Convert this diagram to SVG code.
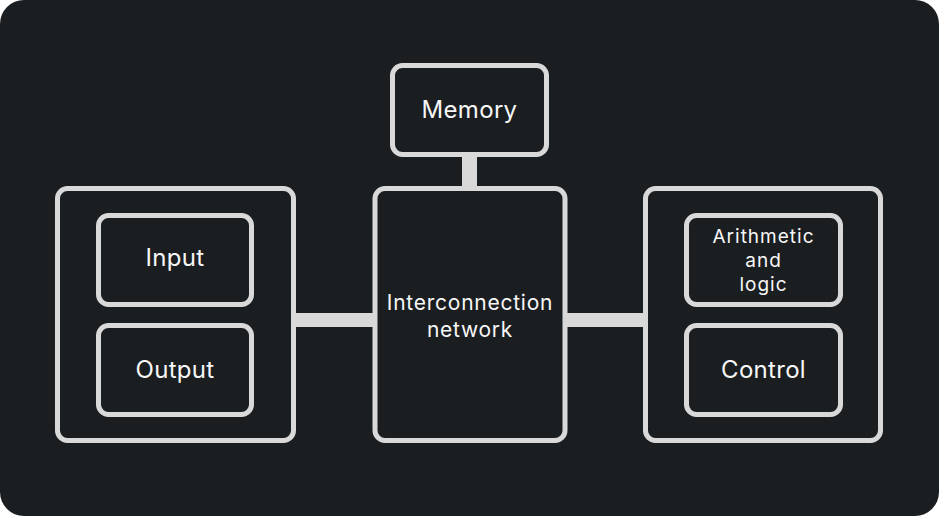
<svg xmlns="http://www.w3.org/2000/svg" width="939" height="516" viewBox="0 0 939 516">
<style>
.box{fill:#1b1e21;stroke:#d9d9d9;stroke-width:5}
.conn{fill:#d9d9d9}
text{font-family:Inter,"Noto Sans",sans-serif;fill:#f7f7f7;text-anchor:middle}
.l{font-size:24px;letter-spacing:0.3px}
.m{font-size:21px;letter-spacing:0.75px}
.s{font-size:19px;letter-spacing:1px}
</style>
<rect x="0" y="0" width="939" height="516" rx="24" fill="#1b1e21"/>
<g id="connectors">
<rect class="conn" x="462" y="155" width="15" height="34"/>
<rect class="conn" x="293" y="313" width="82" height="14"/>
<rect class="conn" x="565" y="313" width="80" height="14"/>
</g>
<g id="memory">
<rect class="box" x="392.5" y="65.5" width="154" height="89" rx="10"/>
<text class="l" x="469.5" y="118">Memory</text>
</g>
<g id="io">
<rect class="box" x="57.5" y="188.5" width="236" height="252" rx="10"/>
</g>
<g id="input">
<rect class="box" x="98.5" y="215.5" width="153" height="89" rx="10"/>
<text class="l" x="175" y="266">Input</text>
</g>
<g id="output">
<rect class="box" x="98.5" y="325.5" width="153" height="89" rx="10"/>
<text class="l" x="175" y="378">Output</text>
</g>
<g id="interconnection">
<rect class="box" x="375" y="188.5" width="190" height="252" rx="10"/>
<text class="m" x="470" y="310">Interconnection</text>
<text class="m" x="470" y="337">network</text>
</g>
<g id="cpu">
<rect class="box" x="645.5" y="188.5" width="235" height="252" rx="10"/>
</g>
<g id="alu">
<rect class="box" x="686.5" y="215.5" width="154" height="89" rx="10"/>
<text class="s" x="763.5" y="243">Arithmetic</text>
<text class="s" x="763.5" y="267">and</text>
<text class="s" x="763.5" y="291">logic</text>
</g>
<g id="control">
<rect class="box" x="686.5" y="325.5" width="154" height="89" rx="10"/>
<text class="l" x="763.5" y="378">Control</text>
</g>
</svg>
